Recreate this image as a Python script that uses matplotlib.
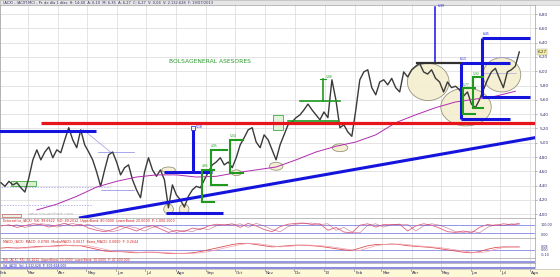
import numpy as np
import pandas as pd
import matplotlib
matplotlib.use("Agg")
import matplotlib.pyplot as plt
import matplotlib.dates as mdates
from matplotlib.patches import Ellipse, Rectangle

# --- datos -------------------------------------------------------------
# cierres ACX, un punto cada ~4 sesiones (feb-2012 a jul-2013)
cierres = [4.44, 4.39, 4.46, 4.41, 4.44, 4.37, 4.31, 4.51, 4.76, 4.90,
           4.76, 4.87, 4.94, 4.79, 4.90, 4.86, 5.04, 5.21, 5.04, 4.93,
           5.18, 4.97, 4.87, 4.76, 4.59, 4.39, 4.62, 4.83, 4.87, 4.73,
           4.55, 4.65, 4.69, 4.48, 4.34, 4.23, 4.59, 4.79, 4.62, 4.53,
           4.62, 4.48, 4.09, 4.41, 4.27, 4.20, 4.10, 4.25, 4.34, 4.39,
           4.37, 4.48, 4.59, 4.69, 4.73, 4.79, 4.69, 4.73, 4.65, 4.79,
           4.97, 5.07, 5.18, 5.21, 5.01, 4.93, 5.11, 5.04, 4.90, 4.76,
           4.97, 5.11, 5.25, 5.29, 5.35, 5.39, 5.46, 5.54, 5.46, 5.39,
           5.32, 5.43, 5.35, 5.88, 5.60, 5.21, 5.25, 5.15, 5.09, 5.46,
           5.88, 5.99, 6.02, 5.77, 5.67, 5.85, 5.88, 5.81, 5.90, 5.77,
           5.71, 5.99, 5.92, 6.02, 6.07, 6.11, 5.99, 5.96, 6.02, 5.90,
           5.85, 5.71, 5.85, 5.77, 5.79, 5.74, 5.65, 5.71, 5.54, 5.49,
           5.60, 5.74, 5.88, 5.99, 6.04, 5.90, 5.77, 5.99, 6.02, 6.07,
           6.27]
fechas = pd.date_range("2012-02-02", "2013-07-21", periods=len(cierres))

# media movil (un valor cada 5 puntos, desde el punto 9)
mm_idx = list(range(9, 130, 5))
mm_val = [4.06, 4.14, 4.25, 4.38, 4.46, 4.52, 4.55, 4.55, 4.52, 4.53,
          4.58, 4.62, 4.66, 4.76, 4.87, 4.95, 5.01, 5.11, 5.28, 5.39,
          5.49, 5.57, 5.61, 5.65, 5.72]

# osciladores, un valor cada ~8 sesiones
estocastico = [70, 78, 60, 72, 85, 80, 62, 75, 88, 70, 82, 55, 40, 30, 45, 68,
               55, 35, 60, 72, 50, 25, 40, 30, 55, 45, 70, 82, 75, 85, 60, 88,
               70, 45, 30, 65, 82, 88, 90, 80, 85, 40, 60, 28, 22, 75, 85, 62,
               80, 78, 82, 35, 70, 85, 75, 55, 30, 25, 35, 22, 60, 80, 72, 85,
               78, 88]
macd = [0.04, 0.05, 0.04, 0.05, 0.06, 0.07, 0.07, 0.08, 0.09, 0.08, 0.08,
        0.05, 0.02, -0.01, -0.02, -0.02, -0.03, -0.04, -0.03, -0.03, -0.04,
        -0.05, -0.05, -0.05, -0.04, -0.02, 0.01, 0.04, 0.07, 0.10, 0.12,
        0.12, 0.10, 0.08, 0.06, 0.07, 0.08, 0.09, 0.09, 0.08, 0.07, 0.05,
        0.03, 0.01, 0.00, 0.04, 0.08, 0.10, 0.10, 0.11, 0.10, 0.08, 0.07,
        0.06, 0.05, 0.03, 0.01, -0.01, -0.03, -0.04, -0.02, 0.02, 0.05,
        0.06, 0.06, 0.06]
fechas_osc = pd.date_range("2012-02-02", "2013-07-21", periods=len(macd))

meses = pd.date_range("2012-02-01", "2013-08-01", freq="MS")
meses_txt = ["Feb", "Mar", "Abr", "May", "Jun", "Jul", "Ago", "Sep", "Oct",
             "Nov", "Dic", "13", "Feb", "Mar", "Abr", "May", "Jun", "Jul", "Ago"]
precios_eje = np.round(np.arange(4.0, 6.81, 0.2), 2)

# lineas dibujadas por el analista: (desde, hasta, nivel)
soporte_rojo = ("2012-03-14", "2013-08-06", 5.27)
azules_h = [("2012-01-20", "2012-05-10", 5.17),
            ("2012-07-21", "2012-09-18", 4.02),
            ("2012-07-19", "2012-09-07", 4.59),
            ("2013-05-22", "2013-07-11", 5.33),
            ("2013-05-21", "2013-07-11", 6.11),
            ("2013-06-12", "2013-08-01", 6.46),
            ("2013-06-12", "2013-08-01", 5.64)]
azules_v = [("2012-08-18", 4.59, 5.18),
            ("2013-05-22", 5.33, 6.11),
            ("2013-06-12", 5.64, 6.46)]
tendencia = (("2012-04-24", 3.95), ("2013-08-06", 5.07))
# cajas verdes: (inicio, fin, maximo, minimo)
verdes = [("2012-08-27", "2012-09-09", 4.62, 4.17),
          ("2012-09-06", "2012-09-22", 4.90, 4.41),
          ("2012-09-25", "2012-10-09", 5.04, 4.58),
          ("2013-05-24", "2013-06-05", 5.77, 5.40),
          ("2013-06-03", "2013-06-14", 5.92, 5.49)]
verdes_h = [("2012-12-07", "2013-01-17", 5.58),
            ("2012-11-24", "2013-01-15", 5.30)]
# elipses: (centro, ancho en dias, precio, alto)
elipses = [("2013-04-18", 43, 5.85, 0.52),
           ("2013-05-27", 52, 5.50, 0.53),
           ("2013-07-03", 39, 5.95, 0.48),
           ("2012-11-12", 14, 4.67, 0.11),
           ("2012-07-24", 10, 4.07, 0.14),
           ("2012-08-09", 10, 4.07, 0.14),
           ("2012-07-24", 14, 4.62, 0.08),
           ("2012-10-02", 10, 4.58, 0.08),
           ("2013-01-17", 16, 4.93, 0.11)]

# --- figura ------------------------------------------------------------
W, H = 560, 277
fig = plt.figure(figsize=(W / 100, H / 100), dpi=100)
fig.patch.set_facecolor("white")

def px_axes(x0, y0, x1, y1):
    return fig.add_axes([x0 / W, 1 - y1 / H, (x1 - x0) / W, (y1 - y0) / H])

t0 = mdates.date2num(pd.Timestamp("2012-02-01"))
xl = (t0 + 1.2, t0 + 552.2)
gris = "#d9d9d9"
azul = "#1414dc"
verde = "#1f9a1f"
T = lambda s: mdates.date2num(pd.Timestamp(s))

# barra de titulo
top = px_axes(0, 0, W, 5)
top.set_facecolor("#e6e6e6")
top.set_xticks([]); top.set_yticks([])
for s in top.spines.values():
    s.set_color("#b0b0b0"); s.set_linewidth(0.4)
top.text(0.005, 0.45, "(ACX) - (ACXT.MC) - Pr. de día 1 días  H: 14:40  A: 6,10  M: 6,35  A: 6,27  "
         "C: 6,27  V: 0,04  V: 2.132.628  F: 19/07/2013",
         fontsize=2.6, va="center", color="#303060", transform=top.transAxes)

# panel de precios
ax = px_axes(0, 5, 535, 218)
ax.set_xlim(xl)
ax.set_ylim(3.947, 6.926)
ax.set_xticks([mdates.date2num(m) for m in meses])
ax.set_xticklabels([])
ax.tick_params(axis="x", length=0)
ax.yaxis.tick_right()
ax.set_yticks(precios_eje)
ax.set_yticklabels([f"{v:.2f}".replace(".", ",") for v in precios_eje],
                   fontsize=3.0, color="#303070")
ax.tick_params(axis="y", length=1.5, width=0.4, pad=1.5, color="#808080")
ax.grid(True, color=gris, lw=0.5)
for s in ax.spines.values():
    s.set_color("#a0a0a0"); s.set_linewidth(0.5)

for c, w, p, h in elipses:
    ax.add_patch(Ellipse((T(c), p), w, h, facecolor="#f4efcf", edgecolor="#8c8a70",
                         lw=0.6, alpha=0.9, zorder=2))

ax.add_patch(Rectangle((T("2012-02-12"), 4.40), 26, 0.07, facecolor="#d6f0d0",
                       edgecolor=verde, lw=0.5, zorder=2))
ax.add_patch(Rectangle((T("2012-11-09"), 5.18), 10, 0.21, facecolor="#e2f4dc",
                       edgecolor=verde, lw=0.5, zorder=2))

# lineas finas lavanda
lav = "#9a9ae6"
ax.plot([T("2012-04-27"), T("2012-05-25")], [5.18, 4.87], color=lav, lw=0.5, zorder=3)
ax.plot([T("2012-05-12"), T("2012-06-18")], [4.87, 4.87], color=lav, lw=0.6, zorder=3)
ax.plot([T("2012-05-15"), T("2012-06-18")], [4.34, 4.34], color=lav, lw=0.6, zorder=3)
ax.plot([xl[0], T("2012-05-25")], [4.38, 4.38], color=lav, lw=0.5, ls=(0, (2, 2)), zorder=3)
ax.plot([xl[0], T("2012-05-07")], [4.13, 4.13], color=lav, lw=0.5, ls=(0, (2, 2)), zorder=3)
ax.plot([T("2013-06-14"), T("2013-07-18")], [6.20, 6.20], color=lav, lw=0.4, zorder=3)
ax.plot([T("2013-06-14"), T("2013-07-18")], [5.98, 5.98], color=lav, lw=0.4, zorder=3)

# precio y media
ax.plot(fechas, cierres, color="#3a3a3a", lw=1.0, zorder=4)
ax.plot(fechas[mm_idx], mm_val, color="#b02cb0", lw=0.7, zorder=4)

# soporte rojo y directriz
d0, d1, lvl = soporte_rojo
ax.plot([T(d0), T(d1)], [lvl, lvl], color="#e8141c", lw=2.3, zorder=5, solid_capstyle="butt")
(ta, pa), (tb, pb) = tendencia
ax.plot([T(ta), T(tb)], [pa, pb], color=azul, lw=2.2, zorder=5)

for d0, d1, lvl in azules_h:
    ax.plot([T(d0), T(d1)], [lvl, lvl], color=azul, lw=2.2, zorder=5, solid_capstyle="butt")
for d, lo, hi in azules_v:
    ax.plot([T(d), T(d)], [lo, hi], color=azul, lw=2.2, zorder=5, solid_capstyle="butt")
ax.plot([T("2013-04-25"), T("2013-04-25")], [6.11, 6.90], color=azul, lw=1.1, zorder=5)
ax.plot([T("2013-04-06"), T("2013-05-21")], [6.11, 6.11], color="#303030", lw=1.6, zorder=5)
ax.plot([T("2012-08-18")], [5.20], marker="s", ms=3.2, mfc="none", mec=azul, mew=0.5, zorder=6)

for d0, d1, hi, lo in verdes:
    ax.plot([T(d1), T(d0), T(d0), T(d1)], [hi, hi, lo, lo], color=verde, lw=1.5,
            zorder=5, solid_joinstyle="miter")
for d0, d1, lvl in verdes_h:
    ax.plot([T(d0), T(d1)], [lvl, lvl], color=verde, lw=1.2, zorder=5)
ax.plot([T("2012-12-30"), T("2012-12-30")], [5.58, 5.89], color=verde, lw=1.2, zorder=5)
ax.plot([T("2012-12-27"), T("2013-01-02")], [5.89, 5.89], color=verde, lw=0.8, zorder=5)

# rotulos pequenos
for d, p, s, c in [("2012-08-21", 5.20, "5,18", azul), ("2013-04-28", 6.90, "6,99", azul),
                   ("2013-06-13", 6.50, "6,45", azul), ("2013-01-02", 5.90, "5,88", verde),
                   ("2012-08-27", 4.66, "4,85", verde), ("2012-09-06", 4.94, "4,95", verde),
                   ("2012-09-25", 5.08, "5,04", verde), ("2013-05-21", 6.15, "6,13", azul),
                   ("2013-06-03", 5.95, "5,92", verde), ("2013-05-24", 5.80, "5,77", verde)]:
    ax.text(T(d), p, s, fontsize=2.2, color=c, zorder=7)

ax.text(T("2012-09-05"), 6.13, "BOLSAGENERAL ASESORES", fontsize=4.3, color="#2a9a2a",
        ha="center", va="center", zorder=7)
ax.text(T("2012-03-01"), 3.99, "www.visualchart.com", fontsize=3.2, color="#b4b4b4", zorder=7)
ax.add_patch(Rectangle((T("2012-02-03"), 3.955), 20, 0.05, facecolor="#e8f4e8",
                       edgecolor="#c03030", lw=0.4, zorder=7))
ax.text(T("2013-08-09"), 6.27, "6,27", fontsize=3.0, color="#303030", va="center",
        bbox=dict(boxstyle="square,pad=0.15", fc="#f6f0a0", ec="#a0a0a0", lw=0.3),
        clip_on=False, zorder=8)

# estocastico
a1 = px_axes(0, 218, 535, 237.5)
a1.set_xlim(xl); a1.set_ylim(-10, 125)
a1.axhline(80, color="#6c6ce0", lw=0.5)
a1.axhline(20, color="#6c6ce0", lw=0.5)
a1.plot(fechas_osc, estocastico, color="#e06080", lw=0.6)
a1.plot(fechas_osc[1:], estocastico[:-1], color="#b03060", lw=0.4, alpha=0.7)
a1.text(0.006, 0.93, "Estocastico_(ACX)  %K: 99.6622  %D: 89.2012  UpperBand: 80.0000  LowerBand: 20.0000  P: 1.000.1000",
        fontsize=2.3, color="#d02020", va="top", transform=a1.transAxes)

# macd
a2 = px_axes(0, 237.5, 535, 257.5)
a2.set_xlim(xl); a2.set_ylim(-0.12, 0.22)
a2.axhline(0, color="#6c6ce0", lw=0.5)
a2.plot(fechas_osc, macd, color="#e05050", lw=0.6)
a2.plot(fechas_osc[1:], macd[:-1], color="#f0a0b0", lw=0.5)
a2.text(0.006, 0.93, "MACD_(ACX)  MACD: 0.0780  MediaMACD: 0.0617  Barra_MACD: 0.0000  P: 0.2644",
        fontsize=2.3, color="#d02020", va="top", transform=a2.transAxes)

# rsi y volumen
a3 = px_axes(0, 257.5, 535, 263)
a3.set_xlim(xl); a3.set_ylim(0, 1)
a3.axhline(0.25, color="#8c8ce0", lw=1.3)
a3.text(0.006, 0.95, "RSI_(ACX)  RSI: 66.2012  UpperBand: 70.0000  LowerBand: 30.0000  P: 47.000.000",
        fontsize=2.2, color="#d02020", va="top", transform=a3.transAxes)
a4 = px_axes(0, 263, 535, 269)
a4.set_xlim(xl); a4.set_ylim(0, 1)
a4.axhline(0.2, color="#8c8ce0", lw=1.5)
a4.text(0.006, 0.95, "Vol_(ACX)  Vol: 2.132.628  P: 509.658.000",
        fontsize=2.2, color="#2020c0", va="top", transform=a4.transAxes)

for a in (a1, a2, a3, a4):
    a.set_xticks([mdates.date2num(m) for m in meses])
    a.set_xticklabels([])
    a.set_yticks([])
    a.tick_params(length=0)
    a.grid(True, axis="x", color=gris, lw=0.5)
    for s in a.spines.values():
        s.set_color("#a0a0a0"); s.set_linewidth(0.5)

for a, p, s in [(a1, 80, "100,00"), (a1, 10, "0,00"), (a2, 0.06, "0,08"),
                (a2, 0.0, "0,00"), (a2, -0.08, "-0,10")]:
    a.text(1.01, (p - a.get_ylim()[0]) / (a.get_ylim()[1] - a.get_ylim()[0]), s,
           fontsize=2.4, color="#303070", va="center", transform=a.transAxes, clip_on=False)

# eje de fechas
a5 = px_axes(0, 269, W, 277)
a5.set_facecolor("#fdf8d6")
a5.set_xlim(xl[0], xl[0] + (xl[1] - xl[0]) * W / 535)
a5.set_ylim(0, 1)
a5.set_xticks([]); a5.set_yticks([])
for s in a5.spines.values():
    s.set_color("#b0b0b0"); s.set_linewidth(0.4)
for m, s in zip(meses, meses_txt):
    x = mdates.date2num(m)
    a5.plot([x, x], [0.75, 1.0], color="#606060", lw=0.4)
    a5.text(x + 1, 0.45, s, fontsize=3.0, color="#303050", ha="left", va="center", clip_on=True)

fig.savefig("out.png", dpi=100)
